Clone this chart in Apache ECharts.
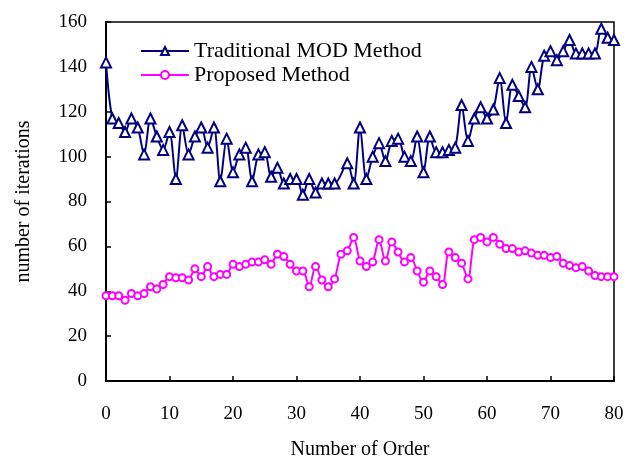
<!DOCTYPE html>
<html>
<head>
    <meta charset="utf-8">
    <title>Iterations</title>
    <script src="https://cdn.jsdelivr.net/npm/echarts@6/dist/echarts.min.js"></script>
</head>
<body style="margin:0">
<div id="chart" style="width: 640px;height:462px;"></div>
<script type="text/javascript">
    // values, index = order number
    var traditional = [142, 117, 115, 111, 117, 113, 101, 117, 109, 103,
        111, 90, 114, 101, 109, 113, 104, 113, 89, 108,
        93, 101, 104, 89, 101, 102, 91, 95, 88, 90,
        90, 83, 90, 84, 88, 88, 88, null, 97, 88,
        113, 90, 100, 106, 98, 107, 108, 100, 98, 109,
        93, 109, 102, 102, 103, 104, 123, 107, 117, 122,
        117, 121, 135, 115, 132, 127, 122, 140, 130, 145,
        147, 143, 147, 152, 146, 146, 146, 146, 157, 153,
        152, 147];
    var proposed = [38, 38, 38, 36, 39, 38, 39, 42, 41, 43,
        46.5, 46, 46, 45, 50, 46.5, 51, 46.5, 47.5, 47.5,
        52, 51, 52, 53, 53, 54, 52, 56.5, 55.5, 52,
        49, 49, 42, 51, 45, 42, 45.5, 56.5, 58, 64,
        53.5, 51, 53, 63, 53.5, 62, 57.5, 53, 55, 49,
        44, 49, 46.5, 43, 57.5, 55, 52.5, 45.5, 63, 64,
        62, 64, 61, 59, 59, 57.5, 58, 57, 56, 56,
        55, 55.5, 52.5, 51.5, 50.5, 51, 49, 47, 46.5, 46.5,
        46.5];
    var xTicks = [0, 10, 20, 30, 40, 50, 60, 70, 80];
    var yTicks = [0, 20, 40, 60, 80, 100, 120, 140, 160];

    function pairs(arr) {
        return arr.map(function (v, i) { return [i, v]; });
    }

    var font = 'Liberation Serif';
    var myChart = echarts.init(document.getElementById('chart'));
    var option = {
        animation: false,
        grid: {
            left: 106, right: 26, top: 22, bottom: 81,
            outerBoundsMode: 'none',
            show: true, borderColor: '#000', borderWidth: 1.5
        },
        legend: {
            orient: 'vertical',
            left: 135, top: 35,
            itemWidth: 48, itemHeight: 10, itemGap: 2,
            textStyle: {fontFamily: font, fontSize: 22, color: '#000'},
            data: ['Traditional MOD Method', 'Proposed Method']
        },
        xAxis: {
            type: 'value',
            min: xTicks[0], max: xTicks[xTicks.length - 1], interval: 10,
            name: 'Number of Order',
            nameLocation: 'middle', nameGap: 59,
            nameTextStyle: {fontFamily: font, fontSize: 20, color: '#000'},
            axisLine: {lineStyle: {color: '#000', width: 2}},
            axisTick: {inside: true, length: 5, lineStyle: {color: '#000', width: 1.5}},
            axisLabel: {fontFamily: font, fontSize: 19, color: '#000', margin: 24},
            splitLine: {show: false}
        },
        yAxis: {
            type: 'value',
            min: yTicks[0], max: yTicks[yTicks.length - 1], interval: 20,
            name: 'number of iterations',
            nameLocation: 'middle', nameGap: 72,
            nameTextStyle: {fontFamily: font, fontSize: 20, color: '#000'},
            axisLine: {lineStyle: {color: '#000', width: 2}},
            axisTick: {inside: true, length: 5, lineStyle: {color: '#000', width: 1.5}},
            axisLabel: {fontFamily: font, fontSize: 19, color: '#000', margin: 19},
            splitLine: {show: false}
        },
        series: [
            {
                name: 'Traditional MOD Method',
                type: 'line',
                data: pairs(traditional),
                connectNulls: true,
                smooth: 0.3,
                symbol: 'triangle',
                symbolSize: 10,
                color: '#000080',
                lineStyle: {width: 2, color: '#000080'},
                itemStyle: {color: '#fff', borderColor: '#000080', borderWidth: 2}
            },
            {
                name: 'Proposed Method',
                type: 'line',
                data: pairs(proposed),
                smooth: 0.3,
                symbol: 'circle',
                symbolSize: 7,
                color: '#ff00ff',
                lineStyle: {width: 2, color: '#ff00ff'},
                itemStyle: {color: '#fff', borderColor: '#ff00ff', borderWidth: 2}
            }
        ]
    };
    myChart.setOption(option);
</script>
</body>
</html>
